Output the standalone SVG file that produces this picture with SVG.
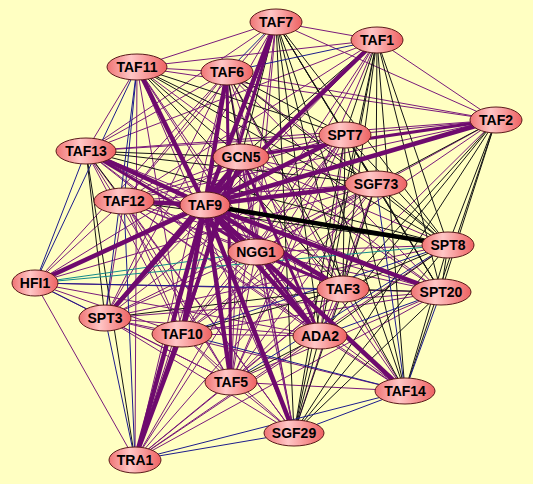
<svg xmlns="http://www.w3.org/2000/svg" width="533" height="484" viewBox="0 0 533 484">
<defs>
<linearGradient id="ng" x1="0" y1="0" x2="1" y2="0">
<stop offset="0" stop-color="#ef7474"/>
<stop offset="0.4" stop-color="#ffc6c6"/>
<stop offset="1" stop-color="#ee6262"/>
</linearGradient>
<style>
.p path{stroke:#7a1a7a;stroke-width:1;fill:none}
.k path{stroke:#141414;stroke-width:1;fill:none}
.b path{stroke:#1c1c8c;stroke-width:1;fill:none}
.t path{stroke:#138a8a;stroke-width:1;fill:none}
.P path{stroke:#6e0a6e;stroke-width:4.5;fill:none}
.Q path{stroke:#6e0a6e;stroke-width:3;fill:none}
.K path{stroke:#000;stroke-width:4.5;fill:none}
.node ellipse{fill:url(#ng);stroke:#5a1a1a;stroke-width:1}
.node text{font-family:"Liberation Sans",Arial,sans-serif;font-weight:bold;font-size:14px;text-anchor:middle;fill:#000}
</style>
</defs>
<rect width="533" height="484" fill="#ffffc2"/>
<g id="connectors">
<g class="p">
<path d="M276 22L377 40"/><path d="M276 22L137 67"/><path d="M276 22L496 120"/><path d="M276 22L86 151"/><path d="M276 22L124 201"/><path d="M276 22L256 252"/><path d="M276 22L105 318"/><path d="M276 22L231 382"/><path d="M276 22L135 460"/>
<path d="M377 40L137 67"/><path d="M377 40L496 120"/><path d="M377 40L86 151"/><path d="M377 40L124 201"/><path d="M377 40L256 252"/><path d="M377 40L105 318"/><path d="M377 40L182 334"/><path d="M377 40L231 382"/>
<path d="M137 67L227 72"/><path d="M137 67L496 120"/><path d="M137 67L86 151"/><path d="M137 67L256 252"/><path d="M137 67L441 292"/><path d="M137 67L182 334"/><path d="M137 67L320 336"/><path d="M137 67L294 433"/><path d="M137 67L135 460"/>
<path d="M227 72L496 120"/><path d="M227 72L86 151"/><path d="M227 72L376 184"/><path d="M227 72L124 201"/><path d="M227 72L256 252"/><path d="M227 72L35 283"/><path d="M227 72L105 318"/><path d="M227 72L343 289"/><path d="M227 72L441 292"/><path d="M227 72L320 336"/><path d="M227 72L294 433"/><path d="M227 72L135 460"/>
<path d="M496 120L345 135"/><path d="M496 120L86 151"/><path d="M496 120L124 201"/><path d="M496 120L256 252"/><path d="M496 120L182 334"/><path d="M496 120L231 382"/>
<path d="M345 135L86 151"/><path d="M345 135L241 157"/><path d="M345 135L124 201"/><path d="M345 135L256 252"/><path d="M345 135L35 283"/><path d="M345 135L105 318"/><path d="M345 135L182 334"/><path d="M345 135L320 336"/><path d="M345 135L231 382"/><path d="M345 135L135 460"/>
<path d="M86 151L343 289"/><path d="M86 151L441 292"/><path d="M86 151L182 334"/><path d="M86 151L320 336"/><path d="M86 151L231 382"/><path d="M86 151L405 391"/><path d="M86 151L294 433"/>
<path d="M241 157L376 184"/><path d="M241 157L124 201"/><path d="M241 157L448 245"/><path d="M241 157L256 252"/><path d="M241 157L35 283"/><path d="M241 157L343 289"/><path d="M241 157L441 292"/><path d="M241 157L182 334"/><path d="M241 157L231 382"/><path d="M241 157L405 391"/><path d="M241 157L294 433"/>
<path d="M376 184L124 201"/><path d="M376 184L256 252"/><path d="M376 184L35 283"/><path d="M376 184L105 318"/><path d="M376 184L182 334"/><path d="M376 184L320 336"/><path d="M376 184L231 382"/><path d="M376 184L294 433"/><path d="M376 184L135 460"/>
<path d="M124 201L256 252"/><path d="M124 201L35 283"/><path d="M124 201L105 318"/><path d="M124 201L343 289"/><path d="M124 201L441 292"/><path d="M124 201L182 334"/><path d="M124 201L320 336"/><path d="M124 201L231 382"/><path d="M124 201L405 391"/><path d="M124 201L294 433"/>
<path d="M448 245L256 252"/><path d="M448 245L105 318"/><path d="M448 245L135 460"/>
<path d="M256 252L105 318"/><path d="M256 252L441 292"/><path d="M256 252L182 334"/><path d="M256 252L231 382"/><path d="M256 252L405 391"/><path d="M256 252L294 433"/><path d="M256 252L135 460"/>
<path d="M35 283L441 292"/><path d="M35 283L182 334"/><path d="M35 283L320 336"/><path d="M35 283L231 382"/><path d="M35 283L135 460"/>
<path d="M105 318L441 292"/><path d="M105 318L182 334"/><path d="M105 318L320 336"/><path d="M105 318L231 382"/><path d="M105 318L405 391"/><path d="M105 318L294 433"/>
<path d="M343 289L320 336"/><path d="M343 289L231 382"/><path d="M343 289L405 391"/><path d="M343 289L135 460"/>
<path d="M441 292L182 334"/><path d="M441 292L231 382"/><path d="M441 292L135 460"/>
<path d="M182 334L320 336"/><path d="M182 334L231 382"/><path d="M182 334L294 433"/>
<path d="M320 336L405 391"/><path d="M320 336L135 460"/>
<path d="M231 382L405 391"/><path d="M231 382L294 433"/><path d="M231 382L135 460"/>
</g>
<g class="k">
<path d="M276 22L345 135"/><path d="M276 22L241 157"/><path d="M276 22L376 184"/><path d="M276 22L448 245"/><path d="M276 22L343 289"/><path d="M276 22L441 292"/><path d="M276 22L320 336"/><path d="M276 22L405 391"/><path d="M276 22L294 433"/>
<path d="M377 40L345 135"/><path d="M377 40L241 157"/><path d="M377 40L376 184"/><path d="M377 40L448 245"/><path d="M377 40L343 289"/><path d="M377 40L441 292"/><path d="M377 40L320 336"/><path d="M377 40L405 391"/><path d="M377 40L294 433"/>
<path d="M137 67L345 135"/><path d="M137 67L241 157"/><path d="M137 67L376 184"/><path d="M137 67L448 245"/><path d="M137 67L343 289"/>
<path d="M227 72L345 135"/><path d="M227 72L241 157"/><path d="M227 72L448 245"/><path d="M227 72L405 391"/>
<path d="M496 120L376 184"/><path d="M496 120L448 245"/><path d="M496 120L343 289"/><path d="M496 120L441 292"/><path d="M496 120L320 336"/><path d="M496 120L405 391"/><path d="M496 120L294 433"/>
<path d="M345 135L376 184"/><path d="M345 135L448 245"/><path d="M345 135L343 289"/><path d="M345 135L441 292"/><path d="M345 135L405 391"/><path d="M345 135L294 433"/>
<path d="M86 151L241 157"/><path d="M86 151L376 184"/><path d="M86 151L124 201"/><path d="M86 151L448 245"/><path d="M86 151L105 318"/><path d="M86 151L135 460"/>
<path d="M376 184L448 245"/><path d="M376 184L343 289"/><path d="M376 184L441 292"/>
<path d="M124 201L448 245"/>
<path d="M448 245L343 289"/><path d="M448 245L441 292"/><path d="M448 245L320 336"/><path d="M448 245L405 391"/><path d="M448 245L294 433"/>
<path d="M105 318L343 289"/><path d="M343 289L441 292"/><path d="M343 289L182 334"/><path d="M343 289L294 433"/><path d="M441 292L294 433"/>
<path d="M320 336L231 382"/><path d="M320 336L294 433"/>
</g>
<g class="b">
<path d="M276 22L227 72"/><path d="M377 40L227 72"/><path d="M137 67L124 201"/><path d="M137 67L35 283"/><path d="M137 67L105 318"/><path d="M86 151L35 283"/><path d="M376 184L405 391"/><path d="M124 201L135 460"/><path d="M448 245L182 334"/><path d="M448 245L231 382"/><path d="M35 283L105 318"/><path d="M35 283L343 289"/><path d="M105 318L135 460"/><path d="M441 292L320 336"/><path d="M441 292L405 391"/><path d="M182 334L405 391"/><path d="M405 391L294 433"/><path d="M405 391L135 460"/><path d="M294 433L135 460"/>
</g>
<g class="t">
<path d="M448 245L35 283"/><path d="M256 252L35 283"/>
</g>
<g class="Q">
<path d="M276 22L182 334"/><path d="M227 72L231 382"/><path d="M496 120L241 157"/><path d="M86 151L256 252"/><path d="M241 157L105 318"/><path d="M241 157L320 336"/><path d="M241 157L135 460"/><path d="M256 252L343 289"/><path d="M256 252L320 336"/><path d="M182 334L135 460"/>
</g>
<g class="P">
<path d="M276 22L205 205"/><path d="M377 40L205 205"/><path d="M137 67L205 205"/><path d="M227 72L205 205"/><path d="M496 120L205 205"/><path d="M345 135L205 205"/><path d="M86 151L205 205"/><path d="M241 157L205 205"/><path d="M376 184L205 205"/><path d="M124 201L205 205"/>
<path d="M205 205L256 252"/><path d="M205 205L35 283"/><path d="M205 205L105 318"/><path d="M205 205L343 289"/><path d="M205 205L441 292"/><path d="M205 205L182 334"/><path d="M205 205L320 336"/><path d="M205 205L231 382"/><path d="M205 205L405 391"/><path d="M205 205L294 433"/><path d="M205 205L135 460"/>
</g>
<g class="K">
<path d="M205 205L448 245"/>
</g>
</g>
<g id="TAF7" class="node"><ellipse cx="276" cy="22" rx="26" ry="13"/><text x="276" y="27">TAF7</text></g>
<g id="TAF1" class="node"><ellipse cx="377" cy="40" rx="26" ry="13"/><text x="377" y="45">TAF1</text></g>
<g id="TAF11" class="node"><ellipse cx="137" cy="67" rx="30" ry="13"/><text x="137" y="72">TAF11</text></g>
<g id="TAF6" class="node"><ellipse cx="227" cy="72" rx="26" ry="13"/><text x="227" y="77">TAF6</text></g>
<g id="TAF2" class="node"><ellipse cx="496" cy="120" rx="26" ry="13"/><text x="496" y="125">TAF2</text></g>
<g id="SPT7" class="node"><ellipse cx="345" cy="135" rx="26" ry="13"/><text x="345" y="140">SPT7</text></g>
<g id="TAF13" class="node"><ellipse cx="86" cy="151" rx="30" ry="13"/><text x="86" y="156">TAF13</text></g>
<g id="GCN5" class="node"><ellipse cx="241" cy="157" rx="28" ry="13"/><text x="241" y="162">GCN5</text></g>
<g id="SGF73" class="node"><ellipse cx="376" cy="184" rx="31" ry="13"/><text x="376" y="189">SGF73</text></g>
<g id="TAF12" class="node"><ellipse cx="124" cy="201" rx="30" ry="13"/><text x="124" y="206">TAF12</text></g>
<g id="TAF9" class="node"><ellipse cx="205" cy="205" rx="25" ry="13"/><text x="205" y="210">TAF9</text></g>
<g id="SPT8" class="node"><ellipse cx="448" cy="245" rx="26" ry="13"/><text x="448" y="250">SPT8</text></g>
<g id="NGG1" class="node"><ellipse cx="256" cy="252" rx="28" ry="13"/><text x="256" y="257">NGG1</text></g>
<g id="HFI1" class="node"><ellipse cx="35" cy="283" rx="23" ry="13"/><text x="35" y="288">HFI1</text></g>
<g id="SPT3" class="node"><ellipse cx="105" cy="318" rx="26" ry="13"/><text x="105" y="323">SPT3</text></g>
<g id="TAF3" class="node"><ellipse cx="343" cy="289" rx="26" ry="13"/><text x="343" y="294">TAF3</text></g>
<g id="SPT20" class="node"><ellipse cx="441" cy="292" rx="30" ry="13"/><text x="441" y="297">SPT20</text></g>
<g id="TAF10" class="node"><ellipse cx="182" cy="334" rx="30" ry="13"/><text x="182" y="339">TAF10</text></g>
<g id="ADA2" class="node"><ellipse cx="320" cy="336" rx="27" ry="13"/><text x="320" y="341">ADA2</text></g>
<g id="TAF5" class="node"><ellipse cx="231" cy="382" rx="26" ry="13"/><text x="231" y="387">TAF5</text></g>
<g id="TAF14" class="node"><ellipse cx="405" cy="391" rx="30" ry="13"/><text x="405" y="396">TAF14</text></g>
<g id="SGF29" class="node"><ellipse cx="294" cy="433" rx="30" ry="13"/><text x="294" y="438">SGF29</text></g>
<g id="TRA1" class="node"><ellipse cx="135" cy="460" rx="26" ry="13"/><text x="135" y="465">TRA1</text></g>
</svg>
